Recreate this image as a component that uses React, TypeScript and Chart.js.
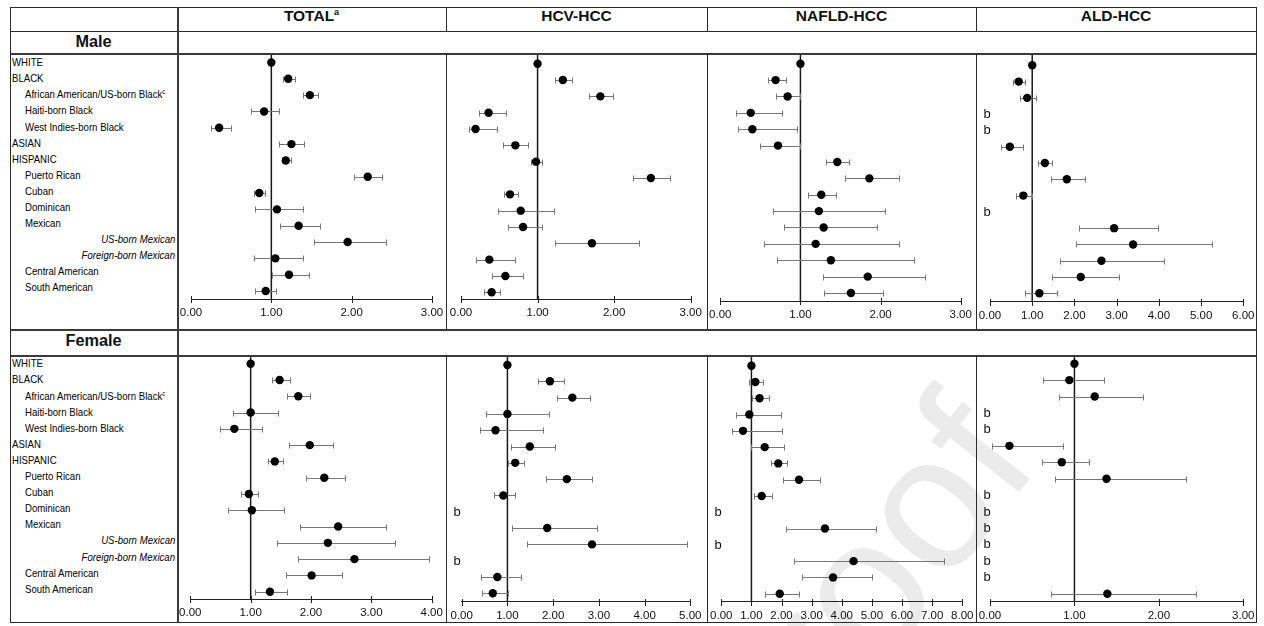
import React, { useEffect, useRef } from "react";
import { Chart, registerables } from "chart.js";

Chart.register(...registerables);

const FONT = "'Liberation Sans', Arial, Helvetica, sans-serif";

// ---------- data ----------
const rowLabels = [
  "WHITE",
  "BLACK",
  "African American/US-born Black",
  "Haiti-born Black",
  "West Indies-born Black",
  "ASIAN",
  "HISPANIC",
  "Puerto Rican",
  "Cuban",
  "Dominican",
  "Mexican",
  "US-born Mexican",
  "Foreign-born Mexican",
  "Central American",
  "South American",
];
// 0 = top level, 1 = indented, 2 = italic right-aligned
const rowLevels = [0, 0, 1, 1, 1, 0, 0, 1, 1, 1, 1, 2, 2, 1, 1];
const rowSuperscripts = [null, null, "c", null, null, null, null, null, null, null, null, null, null, null, null];

const panelTitles = ["TOTAL", "HCV-HCC", "NAFLD-HCC", "ALD-HCC"];
const panelTitleSup = ["a", "", "", ""];
const sexTitles = ["Male", "Female"];
const maleAxisMax = [3, 3, 3, 6];
const femaleAxisMax = [4, 5, 8, 3];
const missingMark = "b";
const watermarkText = "proof";

// Male
const maleTotalEst = [1.0, 1.21, 1.48, 0.91, 0.35, 1.25, 1.18, 2.2, 0.85, 1.07, 1.34, 1.95, 1.05, 1.22, 0.93];
const maleTotalLo = [null, 1.15, 1.39, 0.75, 0.25, 1.1, 1.13, 2.03, 0.78, 0.8, 1.11, 1.53, 0.78, 1.01, 0.8];
const maleTotalHi = [null, 1.29, 1.58, 1.1, 0.5, 1.41, 1.25, 2.38, 0.92, 1.4, 1.6, 2.43, 1.39, 1.47, 1.06];

const maleHcvEst = [1.0, 1.33, 1.82, 0.36, 0.19, 0.71, 0.98, 2.48, 0.64, 0.78, 0.81, 1.71, 0.37, 0.58, 0.4];
const maleHcvLo = [null, 1.23, 1.67, 0.23, 0.1, 0.55, 0.91, 2.24, 0.56, 0.48, 0.61, 1.23, 0.2, 0.41, 0.3];
const maleHcvHi = [null, 1.45, 1.98, 0.59, 0.47, 0.88, 1.06, 2.73, 0.74, 1.21, 1.06, 2.33, 0.7, 0.81, 0.51];

const maleNafldEst = [1.0, 0.69, 0.84, 0.38, 0.4, 0.72, 1.46, 1.86, 1.26, 1.23, 1.29, 1.19, 1.38, 1.84, 1.63];
const maleNafldLo = [null, 0.59, 0.7, 0.19, 0.22, 0.5, 1.32, 1.55, 1.09, 0.66, 0.79, 0.54, 0.71, 1.28, 1.29];
const maleNafldHi = [null, 0.82, 1.0, 0.77, 0.96, 1.0, 1.6, 2.23, 1.45, 2.05, 1.95, 2.23, 2.42, 2.56, 2.03];

const maleAldEst = [1.0, 0.68, 0.88, null, null, 0.47, 1.3, 1.82, 0.79, null, 2.94, 3.39, 2.64, 2.15, 1.17];
const maleAldLo = [null, 0.54, 0.7, null, null, 0.26, 1.14, 1.45, 0.62, null, 2.11, 2.03, 1.66, 1.46, 0.83];
const maleAldHi = [null, 0.83, 1.1, null, null, 0.77, 1.47, 2.26, 1.0, null, 3.98, 5.27, 4.12, 3.06, 1.59];

// Female
const femaleTotalEst = [1.0, 1.48, 1.79, 1.0, 0.73, 1.98, 1.4, 2.22, 0.97, 1.02, 2.45, 2.28, 2.72, 2.01, 1.32];
const femaleTotalLo = [null, 1.35, 1.6, 0.7, 0.5, 1.64, 1.28, 1.92, 0.84, 0.62, 1.82, 1.43, 1.79, 1.59, 1.08];
const femaleTotalHi = [null, 1.65, 1.99, 1.46, 1.19, 2.37, 1.54, 2.56, 1.13, 1.56, 3.24, 3.39, 3.96, 2.52, 1.61];

const femaleHcvEst = [1.0, 1.93, 2.42, 1.0, 0.74, 1.49, 1.17, 2.3, 0.91, null, 1.87, 2.85, null, 0.78, 0.68];
const femaleHcvLo = [null, 1.66, 2.08, 0.53, 0.41, 1.07, 1.02, 1.84, 0.71, null, 1.09, 1.43, null, 0.42, 0.44];
const femaleHcvHi = [null, 2.23, 2.81, 1.91, 1.77, 2.05, 1.36, 2.84, 1.16, null, 2.96, 4.93, null, 1.3, 1.01];

const femaleNafldEst = [1.0, 1.13, 1.27, 0.93, 0.72, 1.44, 1.89, 2.58, 1.34, null, 3.44, null, 4.39, 3.71, 1.94];
const femaleNafldLo = [null, 0.91, 1.02, 0.48, 0.37, 0.97, 1.65, 2.04, 1.07, null, 2.16, null, 2.4, 2.67, 1.44];
const femaleNafldHi = [null, 1.38, 1.58, 1.99, 2.0, 2.07, 2.17, 3.29, 1.67, null, 5.13, null, 7.38, 5.0, 2.57];

const femaleAldEst = [1.0, 0.94, 1.24, null, null, 0.23, 0.85, 1.38, null, null, null, null, null, null, 1.39];
const femaleAldLo = [null, 0.63, 0.82, null, null, 0.02, 0.61, 0.77, null, null, null, null, null, null, 0.72];
const femaleAldHi = [null, 1.35, 1.81, null, null, 0.87, 1.17, 2.32, null, null, null, null, null, null, 2.44];

// ---------- layout (page pixels) ----------
const colEdges = [10, 177, 446, 707, 976, 1256];
const rowEdges = [7, 31, 53, 329, 355, 622];

type Geom = { x0: number; x1: number; r0: number; r14: number; axis: number };
const maleGeom: Geom[] = [
  { x0: 191, x1: 432, r0: 62.5, r14: 291, axis: 299 },
  { x0: 461, x1: 690.7, r0: 63.7, r14: 292.3, axis: 299 },
  { x0: 720.3, x1: 960.7, r0: 63.7, r14: 293, axis: 301 },
  { x0: 990, x1: 1243.3, r0: 65.3, r14: 293.3, axis: 301.7 },
];
const femaleGeom: Geom[] = [
  { x0: 190.3, x1: 431.7, r0: 363.7, r14: 591.7, axis: 599.3 },
  { x0: 461.7, x1: 690.3, r0: 365, r14: 593.3, axis: 601.7 },
  { x0: 721.3, x1: 962.3, r0: 365.7, r14: 593.7, axis: 601.7 },
  { x0: 990, x1: 1243.3, r0: 363.7, r14: 593.7, axis: 601.7 },
];

const forestPlugin = {
  id: "forest",
  beforeDatasetsDraw(chart: any) {
    const { ctx, chartArea } = chart;
    const x = chart.scales.x;
    const y = chart.scales.y;
    const o = chart.options.plugins.forest;
    const est: (number | null)[] = o.est;
    const lo: (number | null)[] = o.lo;
    const hi: (number | null)[] = o.hi;
    ctx.save();
    // reference line at 1
    const rx = x.getPixelForValue(1);
    ctx.strokeStyle = "#1a1a1a";
    ctx.lineWidth = 1.5;
    ctx.beginPath();
    ctx.moveTo(rx, 0);
    ctx.lineTo(rx, chartArea.bottom);
    ctx.stroke();
    // confidence intervals
    ctx.strokeStyle = "#767676";
    ctx.lineWidth = 1;
    for (let i = 0; i < est.length; i++) {
      const l = lo[i];
      const h = hi[i];
      const py = Math.round(y.getPixelForValue(i)) + 0.5;
      if (l != null && h != null) {
        const xl = Math.round(x.getPixelForValue(l)) + 0.5;
        const xh = Math.round(x.getPixelForValue(h)) + 0.5;
        ctx.beginPath();
        ctx.moveTo(xl, py);
        ctx.lineTo(xh, py);
        ctx.moveTo(xl, py - 3);
        ctx.lineTo(xl, py + 3);
        ctx.moveTo(xh, py - 3);
        ctx.lineTo(xh, py + 3);
        ctx.stroke();
      }
      if (est[i] == null) {
        ctx.fillStyle = "#111";
        ctx.font = `13px ${FONT}`;
        ctx.textBaseline = "middle";
        ctx.textAlign = "left";
        ctx.fillText(missingMark, 7.5, py);
      }
    }
    // axis tick marks (both sides)
    ctx.strokeStyle = "#222";
    ctx.lineWidth = 1;
    const by = Math.round(chartArea.bottom) + 0.5;
    x.ticks.forEach((t: any) => {
      const px = Math.round(x.getPixelForValue(t.value)) + 0.5;
      ctx.beginPath();
      ctx.moveTo(px, by - 3.5);
      ctx.lineTo(px, by + 3.5);
      ctx.stroke();
    });
    ctx.restore();
  },
};

function Panel(props: {
  left: number;
  top: number;
  width: number;
  height: number;
  geom: Geom;
  est: (number | null)[];
  lo: (number | null)[];
  hi: (number | null)[];
  max: number;
}) {
  const ref = useRef<HTMLCanvasElement | null>(null);
  useEffect(() => {
    const { left, top, width, height, geom, est, lo, hi, max } = props;
    const padLeft = geom.x0 - left;
    const padRight = left + width - geom.x1;
    const axisRel = geom.axis - top;
    const r0 = geom.r0 - top;
    const r14 = geom.r14 - top;
    const range = (14 * axisRel) / (r14 - r0);
    const yMin = (-r0 * range) / axisRel;
    const yMax = yMin + range;
    const points = est
      .map((v, i) => (v == null ? null : { x: v, y: i }))
      .filter((p) => p != null);
    const chart = new Chart(ref.current as HTMLCanvasElement, {
      type: "scatter",
      data: {
        datasets: [
          {
            data: points as any,
            pointRadius: 4.2,
            pointHoverRadius: 4.2,
            backgroundColor: "#000",
            borderColor: "#000",
            borderWidth: 0,
            clip: false,
          },
        ],
      },
      options: {
        animation: false,
        responsive: false,
        maintainAspectRatio: false,
        events: [],
        layout: { autoPadding: false, padding: { left: padLeft, right: padRight, top: 0, bottom: 0 } },
        plugins: {
          legend: { display: false },
          tooltip: { enabled: false },
          forest: { est, lo, hi },
        } as any,
        scales: {
          x: {
            type: "linear",
            min: 0,
            max,
            afterFit: (s: any) => {
              s.height = height - axisRel;
              s.paddingLeft = 0;
              s.paddingRight = 0;
              s.paddingTop = 0;
              s.paddingBottom = 0;
            },
            ticks: {
              stepSize: 1,
              autoSkip: false,
              maxRotation: 0,
              padding: 7,
              color: "#111",
              font: { family: FONT, size: 11.5 },
              callback: (v: any) => Number(v).toFixed(2),
            },
            grid: { display: true, drawOnChartArea: false, drawTicks: false },
            border: { display: true, color: "#222", width: 1 },
          },
          y: {
            type: "linear",
            display: false,
            reverse: true,
            min: yMin,
            max: yMax,
          },
        },
      } as any,
      plugins: [forestPlugin],
    });
    return () => chart.destroy();
  }, []);
  return (
    <canvas
      ref={ref}
      width={props.width}
      height={props.height}
      style={{ position: "absolute", left: props.left, top: props.top, width: props.width, height: props.height }}
    />
  );
}

function Line(p: { x: number; y: number; w: number; h: number; c?: string }) {
  return <div style={{ position: "absolute", left: p.x, top: p.y, width: p.w, height: p.h, background: p.c || "#2a2a2a" }} />;
}

function RowLabels(p: { y0: number; step: number }) {
  return (
    <>
      {rowLabels.map((lab, i) => {
        const lvl = rowLevels[i];
        const style: any = {
          position: "absolute",
          top: p.y0 + i * p.step - 7,
          height: 14,
          lineHeight: "14px",
          fontSize: 10.8,
          fontFamily: FONT,
          color: "#000",
          whiteSpace: "nowrap",
          transform: "scaleX(0.89)",
        };
        if (lvl === 2) {
          style.right = 1264 - 175;
          style.fontStyle = "italic";
          style.transformOrigin = "right center";
        } else {
          style.left = lvl === 0 ? 12 : 25;
          style.transformOrigin = "left center";
        }
        const sup = rowSuperscripts[i];
        return (
          <div key={i} style={style}>
            {lab}
            {sup ? <span style={{ fontSize: 6.5, position: "relative", top: -4 }}>{sup}</span> : null}
          </div>
        );
      })}
    </>
  );
}

export default function App() {
  const maleData = [
    [maleTotalEst, maleTotalLo, maleTotalHi],
    [maleHcvEst, maleHcvLo, maleHcvHi],
    [maleNafldEst, maleNafldLo, maleNafldHi],
    [maleAldEst, maleAldLo, maleAldHi],
  ];
  const femaleData = [
    [femaleTotalEst, femaleTotalLo, femaleTotalHi],
    [femaleHcvEst, femaleHcvLo, femaleHcvHi],
    [femaleNafldEst, femaleNafldLo, femaleNafldHi],
    [femaleAldEst, femaleAldLo, femaleAldHi],
  ];
  const L = colEdges[0];
  const R = colEdges[5];
  const fullW = R - L + 1;
  return (
    <div style={{ position: "absolute", left: 0, top: 0, width: 1264, height: 626, overflow: "hidden", background: "#fff", fontFamily: FONT }}>
      {/* watermark */}
      <svg width={1264} height={626} style={{ position: "absolute", left: 0, top: 0 }}>
        <text x={775} y={805} transform="rotate(-52 775 805)" fontSize={190} fontFamily={FONT} fill="#ebebeb">
          {watermarkText}
        </text>
      </svg>

      {maleData.map((d, i) => (
        <Panel
          key={"m" + i}
          left={colEdges[i + 1]}
          top={rowEdges[2]}
          width={colEdges[i + 2] - colEdges[i + 1]}
          height={rowEdges[3] - rowEdges[2]}
          geom={maleGeom[i]}
          est={d[0]}
          lo={d[1]}
          hi={d[2]}
          max={maleAxisMax[i]}
        />
      ))}
      {femaleData.map((d, i) => (
        <Panel
          key={"f" + i}
          left={colEdges[i + 1]}
          top={rowEdges[4]}
          width={colEdges[i + 2] - colEdges[i + 1]}
          height={rowEdges[5] - rowEdges[4]}
          geom={femaleGeom[i]}
          est={d[0]}
          lo={d[1]}
          hi={d[2]}
          max={femaleAxisMax[i]}
        />
      ))}

      {/* headers */}
      {panelTitles.map((t, i) => (
        <div
          key={t}
          style={{
            position: "absolute",
            left: colEdges[i + 1],
            width: colEdges[i + 2] - colEdges[i + 1],
            top: 4.3,
            height: 24,
            lineHeight: "24px",
            textAlign: "center",
            fontWeight: "bold",
            fontSize: 15.5,
            color: "#111",
          }}
        >
          {t}
          {panelTitleSup[i] ? <span style={{ fontSize: 9, position: "relative", top: -6 }}>{panelTitleSup[i]}</span> : null}
        </div>
      ))}
      {sexTitles.map((t, k) => (
        <div
          key={t}
          style={{
            position: "absolute",
            left: colEdges[0],
            width: colEdges[1] - colEdges[0],
            top: (k === 0 ? 40.8 : 340) - 12,
            height: 24,
            lineHeight: "24px",
            textAlign: "center",
            fontWeight: "bold",
            fontSize: 16.3,
            color: "#111",
          }}
        >
          {t}
        </div>
      ))}

      <RowLabels y0={62.3} step={16.05} />
      <RowLabels y0={363.3} step={16.1} />

      {/* table lines */}
      <Line x={L} y={rowEdges[0]} w={fullW} h={1} />
      <Line x={L} y={rowEdges[1]} w={fullW} h={1} />
      <Line x={L} y={rowEdges[2] - 0.5} w={fullW} h={2} c="#3a3a3a" />
      <Line x={L} y={rowEdges[3] - 0.5} w={fullW} h={2} c="#3a3a3a" />
      <Line x={L} y={rowEdges[4] - 0.5} w={fullW} h={2} c="#3a3a3a" />
      <Line x={L} y={rowEdges[5]} w={fullW} h={1} />
      <Line x={L} y={rowEdges[0]} w={1} h={rowEdges[5] - rowEdges[0] + 1} />
      <Line x={colEdges[1] - 0.5} y={rowEdges[0]} w={2} h={rowEdges[5] - rowEdges[0] + 1} c="#3a3a3a" />
      <Line x={R} y={rowEdges[0]} w={1} h={rowEdges[5] - rowEdges[0] + 1} />
      {[2, 3, 4].map((c) => (
        <React.Fragment key={c}>
          <Line x={colEdges[c]} y={rowEdges[0]} w={1} h={rowEdges[1] - rowEdges[0]} />
          <Line x={colEdges[c]} y={rowEdges[2]} w={1} h={rowEdges[3] - rowEdges[2]} />
          <Line x={colEdges[c]} y={rowEdges[4]} w={1} h={rowEdges[5] - rowEdges[4]} />
        </React.Fragment>
      ))}
    </div>
  );
}
